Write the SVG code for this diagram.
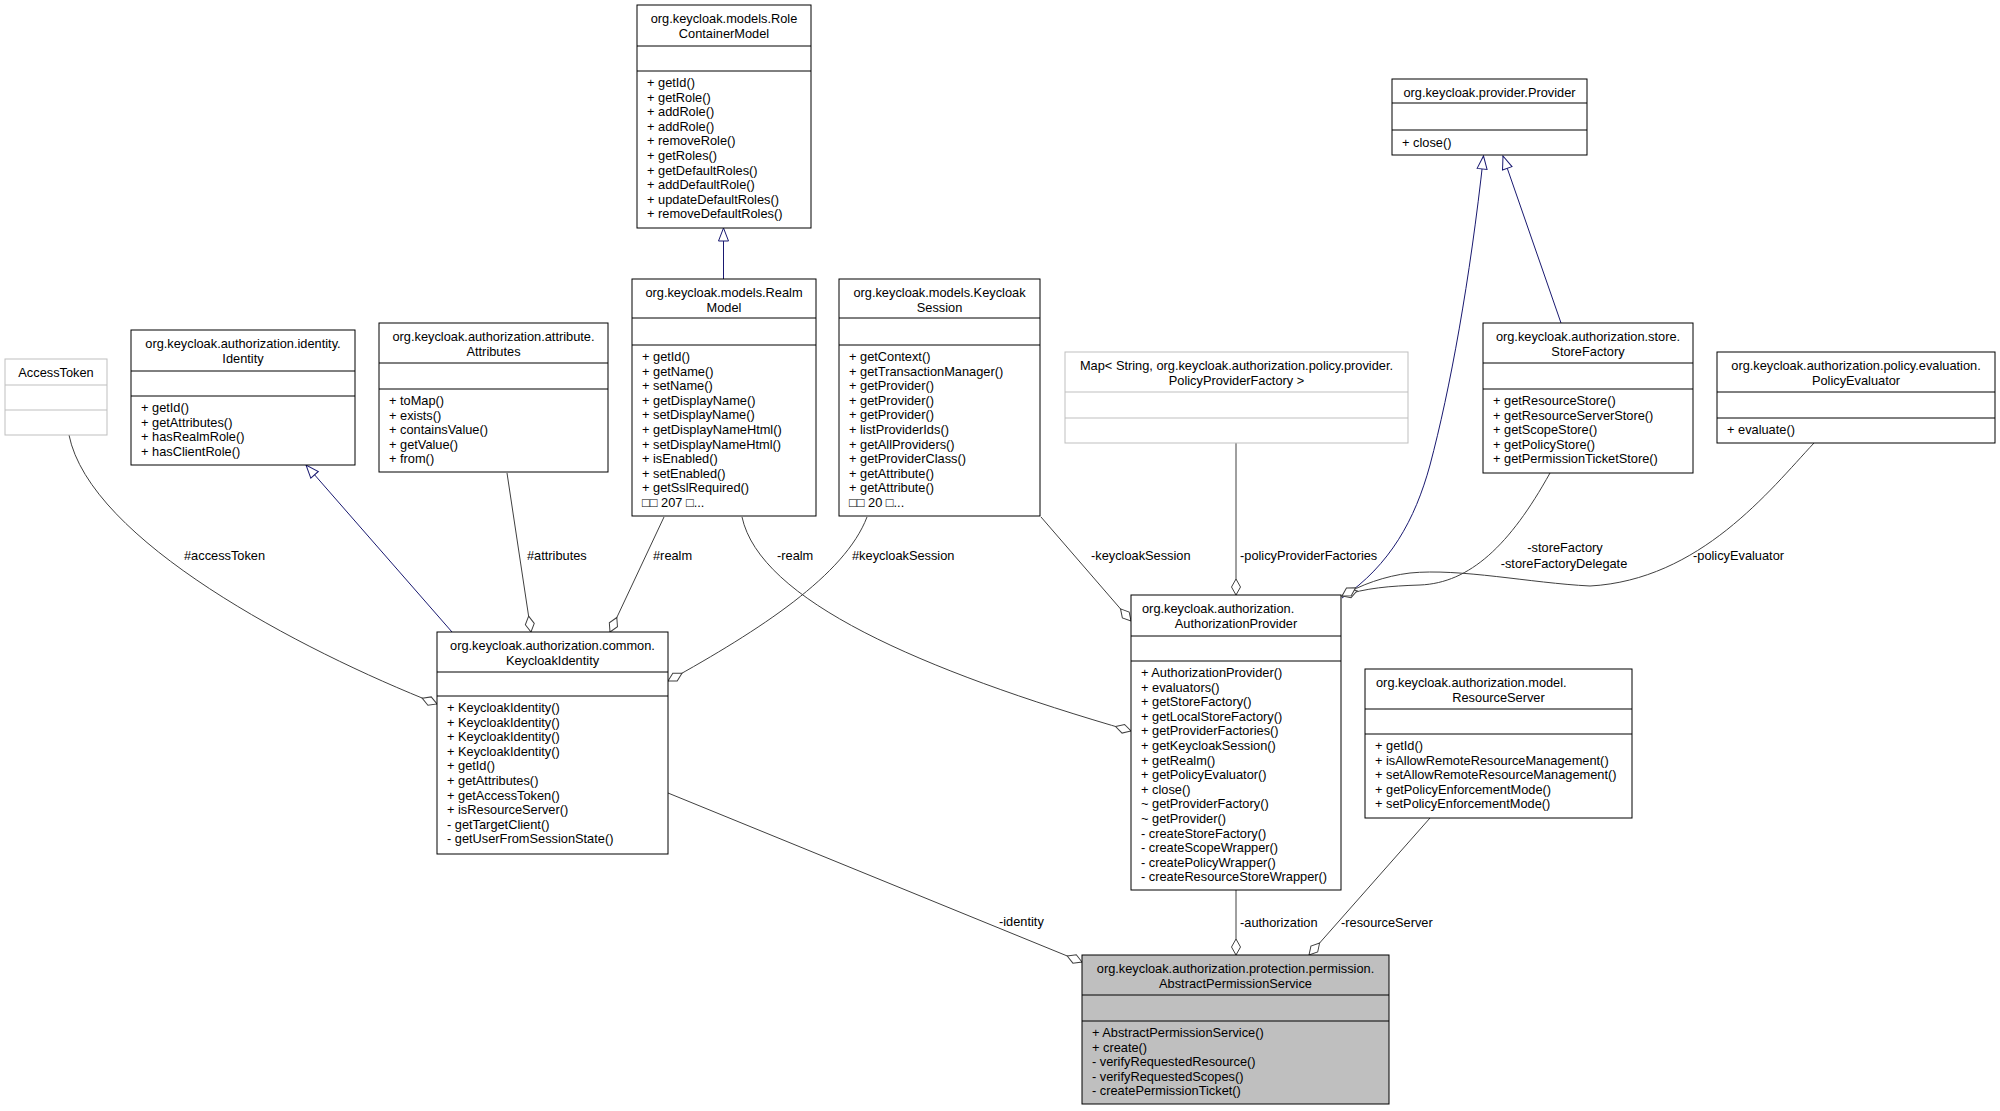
<svg xmlns="http://www.w3.org/2000/svg" width="2000" height="1111" viewBox="0 0 2000 1111">
<style>
.bg{fill:#fff}
.box{fill:#fff;stroke:#000;stroke-width:1}
.gbox{fill:#fff;stroke:#bfbfbf;stroke-width:1}
.sel{fill:#bfbfbf;stroke:#000;stroke-width:1}
.ln{stroke:#000;stroke-width:1}
.gln{stroke:#bfbfbf;stroke-width:1}
.t{font-family:"Liberation Sans",Arial,Helvetica,sans-serif;font-size:12.8px;fill:#000}
.c{text-anchor:middle}
.e{fill:none;stroke:#404040;stroke-width:1}
.g{fill:none;stroke:#191970;stroke-width:1}
.ea{marker-end:url(#dia)}
.ga{marker-end:url(#tri)}
</style>
<defs>
<marker id="dia" markerUnits="userSpaceOnUse" markerWidth="18" markerHeight="11" viewBox="0 0 18 11" refX="17" refY="5.5" orient="auto">
<path d="M1,5.5 L9,1 L17,5.5 L9,10 Z" fill="#fff" stroke="#404040" stroke-width="1"/>
</marker>
<marker id="tri" markerUnits="userSpaceOnUse" markerWidth="15" markerHeight="12" viewBox="0 0 15 12" refX="14" refY="6" orient="auto">
<path d="M1,1 L14,6 L1,11 Z" fill="#fff" stroke="#191970" stroke-width="1"/>
</marker>
</defs>
<rect class="bg" x="0" y="0" width="2000" height="1111"/>

<g id="connectors">
<path class="g ga" d="M723.5,279 L723.5,228"/>
<path class="g ga" d="M1342,598 C1390,565 1415,520 1430,465 C1450,390 1470,280 1483.5,156"/>
<path class="g ga" d="M1561,323 L1503,156"/>
<path class="g ga" d="M452,632 L306,465"/>
<path class="e ea" d="M69,435 C90,540 300,650 437,704"/>
<path class="e ea" d="M507,473 L531,632"/>
<path class="e ea" d="M664,517 L610,632"/>
<path class="e ea" d="M742,517 C760,600 920,670 1131,731"/>
<path class="e ea" d="M867,517 C845,575 760,630 668,681"/>
<path class="e ea" d="M1041,517 L1131,621"/>
<path class="e ea" d="M1236,443 L1236,595"/>
<path class="e ea" d="M1550,473 C1510,545 1470,583 1420,585 C1390,586 1365,588 1342,596"/>
<path class="e ea" d="M1814,443 C1770,490 1700,580 1590,586 C1530,583 1460,568 1410,573 C1385,576 1360,585 1342,596"/>
<path class="e ea" d="M1236,890 L1236,955"/>
<path class="e ea" d="M1430,818 L1309,955"/>
<path class="e ea" d="M668,793 L1082,962"/>
<text class="t" x="184" y="559.5">#accessToken</text>
<text class="t" x="527" y="559.5">#attributes</text>
<text class="t" x="653" y="559.5">#realm</text>
<text class="t" x="777" y="559.5">-realm</text>
<text class="t" x="852" y="559.5">#keycloakSession</text>
<text class="t" x="1091" y="559.5">-keycloakSession</text>
<text class="t" x="1240" y="559.5">-policyProviderFactories</text>
<text class="t c" x="1565" y="552">-storeFactory</text>
<text class="t c" x="1564" y="567.5">-storeFactoryDelegate</text>
<text class="t" x="1693" y="559.5">-policyEvaluator</text>
<text class="t" x="999" y="925.5">-identity</text>
<text class="t" x="1240" y="927">-authorization</text>
<text class="t" x="1341" y="927">-resourceServer</text>
</g>

<g id="RoleContainerModel">
<rect class="box" x="637" y="5" width="174" height="223"/>
<line class="ln" x1="637" y1="46" x2="811" y2="46"/>
<line class="ln" x1="637" y1="71" x2="811" y2="71"/>
<text class="t c" x="724" y="23">org.keycloak.models.Role</text>
<text class="t c" x="724" y="37.5">ContainerModel</text>
<text class="t" x="647" y="87"><tspan x="647" dy="0">+ getId()</tspan><tspan x="647" dy="14.6">+ getRole()</tspan><tspan x="647" dy="14.6">+ addRole()</tspan><tspan x="647" dy="14.6">+ addRole()</tspan><tspan x="647" dy="14.6">+ removeRole()</tspan><tspan x="647" dy="14.6">+ getRoles()</tspan><tspan x="647" dy="14.6">+ getDefaultRoles()</tspan><tspan x="647" dy="14.6">+ addDefaultRole()</tspan><tspan x="647" dy="14.6">+ updateDefaultRoles()</tspan><tspan x="647" dy="14.6">+ removeDefaultRoles()</tspan></text>
</g>

<g id="Provider">
<rect class="box" x="1392" y="79" width="195" height="76"/>
<line class="ln" x1="1392" y1="103" x2="1587" y2="103"/>
<line class="ln" x1="1392" y1="130" x2="1587" y2="130"/>
<text class="t c" x="1489.5" y="96.5">org.keycloak.provider.Provider</text>
<text class="t" x="1402" y="146.5">+ close()</text>
</g>

<g id="AccessToken">
<rect class="gbox" x="5" y="359" width="102" height="76"/>
<line class="gln" x1="5" y1="385" x2="107" y2="385"/>
<line class="gln" x1="5" y1="410" x2="107" y2="410"/>
<text class="t c" x="56" y="376.5">AccessToken</text>
</g>

<g id="Identity">
<rect class="box" x="131" y="330" width="224" height="135"/>
<line class="ln" x1="131" y1="371" x2="355" y2="371"/>
<line class="ln" x1="131" y1="396" x2="355" y2="396"/>
<text class="t c" x="243" y="348">org.keycloak.authorization.identity.</text>
<text class="t c" x="243" y="362.5">Identity</text>
<text class="t" x="141" y="412"><tspan x="141" dy="0">+ getId()</tspan><tspan x="141" dy="14.6">+ getAttributes()</tspan><tspan x="141" dy="14.6">+ hasRealmRole()</tspan><tspan x="141" dy="14.6">+ hasClientRole()</tspan></text>
</g>

<g id="Attributes">
<rect class="box" x="379" y="323" width="229" height="149"/>
<line class="ln" x1="379" y1="363" x2="608" y2="363"/>
<line class="ln" x1="379" y1="389" x2="608" y2="389"/>
<text class="t c" x="493.5" y="341">org.keycloak.authorization.attribute.</text>
<text class="t c" x="493.5" y="355.5">Attributes</text>
<text class="t" x="389" y="405"><tspan x="389" dy="0">+ toMap()</tspan><tspan x="389" dy="14.6">+ exists()</tspan><tspan x="389" dy="14.6">+ containsValue()</tspan><tspan x="389" dy="14.6">+ getValue()</tspan><tspan x="389" dy="14.6">+ from()</tspan></text>
</g>

<g id="RealmModel">
<rect class="box" x="632" y="279" width="184" height="237"/>
<line class="ln" x1="632" y1="318" x2="816" y2="318"/>
<line class="ln" x1="632" y1="345" x2="816" y2="345"/>
<text class="t c" x="724" y="297">org.keycloak.models.Realm</text>
<text class="t c" x="724" y="311.5">Model</text>
<text class="t" x="642" y="361"><tspan x="642" dy="0">+ getId()</tspan><tspan x="642" dy="14.6">+ getName()</tspan><tspan x="642" dy="14.6">+ setName()</tspan><tspan x="642" dy="14.6">+ getDisplayName()</tspan><tspan x="642" dy="14.6">+ setDisplayName()</tspan><tspan x="642" dy="14.6">+ getDisplayNameHtml()</tspan><tspan x="642" dy="14.6">+ setDisplayNameHtml()</tspan><tspan x="642" dy="14.6">+ isEnabled()</tspan><tspan x="642" dy="14.6">+ setEnabled()</tspan><tspan x="642" dy="14.6">+ getSslRequired()</tspan><tspan x="642" dy="14.6">□□ 207 □...</tspan></text>
</g>

<g id="KeycloakSession">
<rect class="box" x="839" y="279" width="201" height="237"/>
<line class="ln" x1="839" y1="318" x2="1040" y2="318"/>
<line class="ln" x1="839" y1="345" x2="1040" y2="345"/>
<text class="t c" x="939.5" y="297">org.keycloak.models.Keycloak</text>
<text class="t c" x="939.5" y="311.5">Session</text>
<text class="t" x="849" y="361"><tspan x="849" dy="0">+ getContext()</tspan><tspan x="849" dy="14.6">+ getTransactionManager()</tspan><tspan x="849" dy="14.6">+ getProvider()</tspan><tspan x="849" dy="14.6">+ getProvider()</tspan><tspan x="849" dy="14.6">+ getProvider()</tspan><tspan x="849" dy="14.6">+ listProviderIds()</tspan><tspan x="849" dy="14.6">+ getAllProviders()</tspan><tspan x="849" dy="14.6">+ getProviderClass()</tspan><tspan x="849" dy="14.6">+ getAttribute()</tspan><tspan x="849" dy="14.6">+ getAttribute()</tspan><tspan x="849" dy="14.6">□□ 20 □...</tspan></text>
</g>

<g id="PolicyProviderFactoryMap">
<rect class="gbox" x="1065" y="352" width="343" height="91"/>
<line class="gln" x1="1065" y1="392" x2="1408" y2="392"/>
<line class="gln" x1="1065" y1="418" x2="1408" y2="418"/>
<text class="t c" x="1236.5" y="370">Map&lt; String, org.keycloak.authorization.policy.provider.</text>
<text class="t c" x="1236.5" y="384.5">PolicyProviderFactory &gt;</text>
</g>

<g id="StoreFactory">
<rect class="box" x="1483" y="323" width="210" height="150"/>
<line class="ln" x1="1483" y1="363" x2="1693" y2="363"/>
<line class="ln" x1="1483" y1="389" x2="1693" y2="389"/>
<text class="t c" x="1588" y="341">org.keycloak.authorization.store.</text>
<text class="t c" x="1588" y="355.5">StoreFactory</text>
<text class="t" x="1493" y="405"><tspan x="1493" dy="0">+ getResourceStore()</tspan><tspan x="1493" dy="14.6">+ getResourceServerStore()</tspan><tspan x="1493" dy="14.6">+ getScopeStore()</tspan><tspan x="1493" dy="14.6">+ getPolicyStore()</tspan><tspan x="1493" dy="14.6">+ getPermissionTicketStore()</tspan></text>
</g>

<g id="PolicyEvaluator">
<rect class="box" x="1717" y="352" width="278" height="91"/>
<line class="ln" x1="1717" y1="392" x2="1995" y2="392"/>
<line class="ln" x1="1717" y1="418" x2="1995" y2="418"/>
<text class="t c" x="1856" y="370">org.keycloak.authorization.policy.evaluation.</text>
<text class="t c" x="1856" y="384.5">PolicyEvaluator</text>
<text class="t" x="1727" y="434">+ evaluate()</text>
</g>

<g id="KeycloakIdentity">
<rect class="box" x="437" y="632" width="231" height="222"/>
<line class="ln" x1="437" y1="672" x2="668" y2="672"/>
<line class="ln" x1="437" y1="696" x2="668" y2="696"/>
<text class="t c" x="552.5" y="650">org.keycloak.authorization.common.</text>
<text class="t c" x="552.5" y="664.5">KeycloakIdentity</text>
<text class="t" x="447" y="712"><tspan x="447" dy="0">+ KeycloakIdentity()</tspan><tspan x="447" dy="14.6">+ KeycloakIdentity()</tspan><tspan x="447" dy="14.6">+ KeycloakIdentity()</tspan><tspan x="447" dy="14.6">+ KeycloakIdentity()</tspan><tspan x="447" dy="14.6">+ getId()</tspan><tspan x="447" dy="14.6">+ getAttributes()</tspan><tspan x="447" dy="14.6">+ getAccessToken()</tspan><tspan x="447" dy="14.6">+ isResourceServer()</tspan><tspan x="447" dy="14.6">- getTargetClient()</tspan><tspan x="447" dy="14.6">- getUserFromSessionState()</tspan></text>
</g>

<g id="AuthorizationProvider">
<rect class="box" x="1131" y="595" width="210" height="295"/>
<line class="ln" x1="1131" y1="636" x2="1341" y2="636"/>
<line class="ln" x1="1131" y1="661" x2="1341" y2="661"/>
<text class="t" x="1142" y="613">org.keycloak.authorization.</text>
<text class="t c" x="1236" y="627.5">AuthorizationProvider</text>
<text class="t" x="1141" y="677"><tspan x="1141" dy="0">+ AuthorizationProvider()</tspan><tspan x="1141" dy="14.6">+ evaluators()</tspan><tspan x="1141" dy="14.6">+ getStoreFactory()</tspan><tspan x="1141" dy="14.6">+ getLocalStoreFactory()</tspan><tspan x="1141" dy="14.6">+ getProviderFactories()</tspan><tspan x="1141" dy="14.6">+ getKeycloakSession()</tspan><tspan x="1141" dy="14.6">+ getRealm()</tspan><tspan x="1141" dy="14.6">+ getPolicyEvaluator()</tspan><tspan x="1141" dy="14.6">+ close()</tspan><tspan x="1141" dy="14.6">~ getProviderFactory()</tspan><tspan x="1141" dy="14.6">~ getProvider()</tspan><tspan x="1141" dy="14.6">- createStoreFactory()</tspan><tspan x="1141" dy="14.6">- createScopeWrapper()</tspan><tspan x="1141" dy="14.6">- createPolicyWrapper()</tspan><tspan x="1141" dy="14.6">- createResourceStoreWrapper()</tspan></text>
</g>

<g id="ResourceServer">
<rect class="box" x="1365" y="669" width="267" height="149"/>
<line class="ln" x1="1365" y1="709" x2="1632" y2="709"/>
<line class="ln" x1="1365" y1="734" x2="1632" y2="734"/>
<text class="t" x="1376" y="687">org.keycloak.authorization.model.</text>
<text class="t c" x="1498.5" y="701.5">ResourceServer</text>
<text class="t" x="1375" y="750"><tspan x="1375" dy="0">+ getId()</tspan><tspan x="1375" dy="14.6">+ isAllowRemoteResourceManagement()</tspan><tspan x="1375" dy="14.6">+ setAllowRemoteResourceManagement()</tspan><tspan x="1375" dy="14.6">+ getPolicyEnforcementMode()</tspan><tspan x="1375" dy="14.6">+ setPolicyEnforcementMode()</tspan></text>
</g>

<g id="AbstractPermissionService">
<rect class="sel" x="1082" y="955" width="307" height="149"/>
<line class="ln" x1="1082" y1="995" x2="1389" y2="995"/>
<line class="ln" x1="1082" y1="1021" x2="1389" y2="1021"/>
<text class="t c" x="1235.5" y="973">org.keycloak.authorization.protection.permission.</text>
<text class="t c" x="1235.5" y="987.5">AbstractPermissionService</text>
<text class="t" x="1092" y="1037"><tspan x="1092" dy="0">+ AbstractPermissionService()</tspan><tspan x="1092" dy="14.6">+ create()</tspan><tspan x="1092" dy="14.6">- verifyRequestedResource()</tspan><tspan x="1092" dy="14.6">- verifyRequestedScopes()</tspan><tspan x="1092" dy="14.6">- createPermissionTicket()</tspan></text>
</g>
</svg>
